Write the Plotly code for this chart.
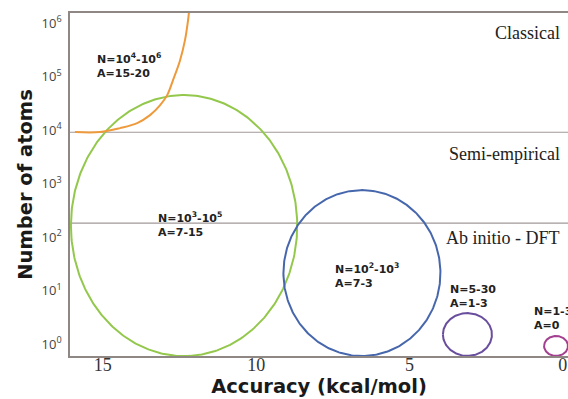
import numpy as np
import plotly.graph_objects as go

# ---------------- data ----------------
# ellipse regions: centre accuracy (kcal/mol), half-width, centre log10(N), half-height (decades)
ell_names = ["N=10<sup>3</sup>-10<sup>5</sup>", "N=10<sup>2</sup>-10<sup>3</sup>", "N=5-30", "N=1-3"]
ell_cx = [12.35, 6.55, 3.11, 0.22]
ell_rx = [3.69, 2.56, 0.80, 0.39]
ell_cy = [2.215, 1.327, 0.178, -0.037]
ell_ry = [2.44, 1.551, 0.40, 0.187]
ell_colors = ["#93c84c", "#4767ad", "#6a4e9e", "#a3408f"]

# classical region boundary curve (orange)
orange_acc = [15.91, 15.09, 14.44, 13.88, 13.46, 13.13, 12.90, 12.71, 12.48, 12.32, 12.22, 12.19]
orange_log10N = [3.963, 3.963, 4.037, 4.131, 4.280, 4.467, 4.654, 4.935, 5.308, 5.682, 6.056, 6.206]

# method boundaries (number of atoms)
boundaries = [10 ** 3.96, 10 ** 2.26]
region_labels = ["Classical", "Semi-empirical", "Ab initio - DFT"]
region_label_N = [10 ** 5.81, 10 ** 3.55, 10 ** 1.98]

# text labels
label_text = [
    "N=10<sup>4</sup>-10<sup>6</sup><br>A=15-20",
    "N=10<sup>3</sup>-10<sup>5</sup><br>A=7-15",
    "N=10<sup>2</sup>-10<sup>3</sup><br>A=7-3",
    "N=5-30<br>A=1-3",
    "N=1-3<br>A=0",
]
label_acc = [15.25, 13.28, 7.49, 3.74, 1.00]
label_log10N = [5.215, 2.243, 1.29, 0.897, 0.486]

y_tickvals = [1, 10, 100, 1000, 10000, 100000, 1000000]
y_ticktext = ["10<sup>%d</sup>" % i for i in range(7)]
x_tickvals = [15, 10, 5, 0]
x_ticktext = ["15", "10", "5", "0"]

X_RANGE = [16.07, -0.17]
Y_RANGE = [-0.224, 6.19]

fig = go.Figure()

# boundary lines
for b in boundaries:
    fig.add_trace(go.Scatter(x=X_RANGE, y=[b, b], mode="lines",
                             line=dict(color="#a09a98", width=1.2),
                             hoverinfo="skip", showlegend=False))

# ellipses
t = np.linspace(0, 2 * np.pi, 361)
for cx, rx, cy, ry, c in zip(ell_cx, ell_rx, ell_cy, ell_ry, ell_colors):
    fig.add_trace(go.Scatter(x=cx + rx * np.cos(t), y=10 ** (cy + ry * np.sin(t)),
                             mode="lines", line=dict(color=c, width=2),
                             hoverinfo="skip", showlegend=False))

# orange curve
fig.add_trace(go.Scatter(x=orange_acc, y=[10 ** v for v in orange_log10N], mode="lines",
                         line=dict(color="#ee9a3c", width=2, shape="spline"),
                         hoverinfo="skip", showlegend=False))

# annotations
for txt, xa, ly in zip(label_text, label_acc, label_log10N):
    fig.add_annotation(x=xa, y=ly, xref="x", yref="y", text="<b>%s</b>" % txt,
                       showarrow=False, xanchor="left", yanchor="middle", align="left",
                       font=dict(family="DejaVu Sans", size=11, color="#222222"))

for txt, n in zip(region_labels, region_label_N):
    fig.add_annotation(x=0.988, y=np.log10(n), xref="paper", yref="y", text=txt,
                       showarrow=False, xanchor="right", yanchor="middle",
                       font=dict(family="Liberation Serif", size=18, color="#222222"))

fig.update_layout(
    width=568, height=399,
    margin=dict(l=70, r=0, t=13, b=43),
    paper_bgcolor="white", plot_bgcolor="white",
    xaxis=dict(range=X_RANGE, tickvals=x_tickvals, ticktext=x_ticktext,
               showgrid=False, zeroline=False, showline=True, linecolor="#8f8784",
               linewidth=1.5, mirror=True, ticks="", ticklabelstandoff=-8,
               tickfont=dict(family="Liberation Serif", size=18, color="#333333"),
               title=dict(text="<b>Accuracy (kcal/mol)</b>", standoff=0,
                          font=dict(family="DejaVu Sans", size=19.5, color="#1a1a1a"))),
    yaxis=dict(type="log", range=Y_RANGE, tickvals=y_tickvals, ticktext=y_ticktext,
               showgrid=False, zeroline=False, showline=True, linecolor="#8f8784",
               linewidth=1.5, ticks="", ticklabelstandoff=4,
               tickfont=dict(family="Open Sans", size=13, color="#444444"),
               title=dict(text="<b>Number of atoms</b>", standoff=4,
                          font=dict(family="DejaVu Sans", size=19.5, color="#1a1a1a"))),
)

fig.write_html("out.html")
